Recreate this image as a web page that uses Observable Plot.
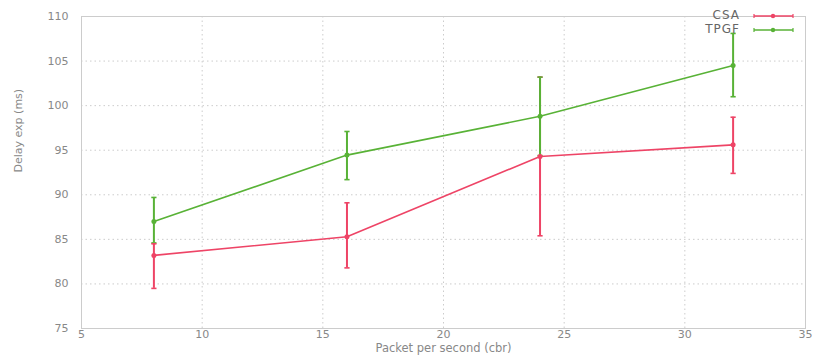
<!DOCTYPE html>
<html>
<head>
<meta charset="utf-8">
<script src="https://cdn.jsdelivr.net/npm/d3@7"></script>
<script src="https://cdn.jsdelivr.net/npm/@observablehq/plot@0.6"></script>
<style>
  html, body { margin: 0; padding: 0; background: #fff; }
  #wrap { position: relative; width: 813px; height: 357px; overflow: hidden; }
  #legend { position: absolute; left: 0; top: 0; width: 813px; height: 40px; pointer-events: none;
            font-family: "DejaVu Sans", sans-serif; }
  .lg-row { position: absolute; display: flex; align-items: center; }
  .lg-text { width: 60px; text-align: right; font-size: 12px; line-height: 12px; color: #666; letter-spacing: 1px; }
</style>
</head>
<body>
<div id="wrap"><div id="legend"></div></div>
<script>
// ---- data ----
const xValues   = [8, 16, 24, 32];
const seriesNames = ["CSA", "TPGF"];
const seriesColors = ["#ee4466", "#58b236"];
const csaMean   = [83.2, 85.3, 94.3, 95.6];
const csaLow    = [79.5, 81.8, 85.4, 92.4];
const csaHigh   = [84.5, 89.1, 103.2, 98.7];
const tpgfMean  = [87.0, 94.45, 98.8, 104.5];
const tpgfLow   = [84.6, 91.7, 94.4, 101.0];
const tpgfHigh  = [89.7, 97.1, 103.2, 108.1];
const xTicks = [5, 10, 15, 20, 25, 30, 35];
const yTicks = [75, 80, 85, 90, 95, 100, 105, 110];
const xLabel = "Packet per second (cbr)";
const yLabel = "Delay exp (ms)";

const rows = [];
xValues.forEach((x, i) => {
  rows.push({series: "CSA", x, y: csaMean[i], lo: csaLow[i], hi: csaHigh[i]});
});
xValues.forEach((x, i) => {
  rows.push({series: "TPGF", x, y: tpgfMean[i], lo: tpgfLow[i], hi: tpgfHigh[i]});
});

const capSymbol = {
  draw(context, size) {
    const w = 2.6;
    context.moveTo(-w, 0);
    context.lineTo(w, 0);
  }
};

const font = "'DejaVu Sans', sans-serif";

const chart = Plot.plot({
  width: 813,
  height: 357,
  marginLeft: 81,
  marginRight: 8,
  marginTop: 16,
  marginBottom: 29,
  style: { fontFamily: font, background: "#fff", overflow: "visible" },
  x: { domain: [5, 35] },
  y: { domain: [75, 110] },
  color: { domain: seriesNames, range: seriesColors },
  marks: [
    Plot.gridX(xTicks, { stroke: "#ccc", strokeOpacity: 1, strokeDasharray: "1.5,3" }),
    Plot.gridY(yTicks, { stroke: "#ccc", strokeOpacity: 1, strokeDasharray: "1.5,3" }),
    Plot.frame({ stroke: "#ccc" }),
    Plot.axisX({ ticks: xTicks, tickSize: 0, tickPadding: 2, label: null,
                 fontSize: 11, fill: "#888", style: "letter-spacing:2px" }),
    Plot.axisY({ ticks: yTicks, tickSize: 0, tickPadding: 13, label: null,
                 fontSize: 11, fill: "#888", style: "letter-spacing:2px" }),
    Plot.text([xLabel], { frameAnchor: "bottom", dy: 23, fontSize: 11.5, fill: "#888",
                          style: "letter-spacing:2.4px" }),
    Plot.text([yLabel], { frameAnchor: "left", dx: -63, rotate: -90, fontSize: 11, fill: "#888" }),
    // error bars
    Plot.ruleX(rows, { x: "x", y1: "lo", y2: "hi", stroke: "series", strokeWidth: 2 }),
    Plot.dot(rows, { x: "x", y: "lo", symbol: capSymbol, stroke: "series", strokeWidth: 1.6, r: 3 }),
    Plot.dot(rows, { x: "x", y: "hi", symbol: capSymbol, stroke: "series", strokeWidth: 1.6, r: 3 }),
    // lines
    Plot.line(rows, { x: "x", y: "y", z: "series", stroke: "series", strokeWidth: 1.6 }),
    Plot.dot(rows, { x: "x", y: "y", fill: "series", r: 2.5 })
  ]
});
document.getElementById("wrap").prepend(chart);

// legend (inside plot, top right)
const legend = document.getElementById("legend");
const legendTops = [9, 23];
seriesNames.forEach((name, i) => {
  const row = document.createElement("div");
  row.className = "lg-row";
  row.style.left = "680px";
  row.style.top = legendTops[i] + "px";
  row.style.height = "12px";
  row.innerHTML = `<span class="lg-text">${name}</span>
    <svg width="60" height="12" style="margin-left:12px">
      <line x1="2" x2="41" y1="7" y2="7" stroke="${seriesColors[i]}" stroke-width="1.6"/>
      <line x1="2" x2="2" y1="5" y2="9" stroke="${seriesColors[i]}" stroke-width="1.2"/>
      <line x1="41" x2="41" y1="5" y2="9" stroke="${seriesColors[i]}" stroke-width="1.2"/>
      <circle cx="21" cy="7" r="2.2" fill="${seriesColors[i]}"/>
    </svg>`;
  legend.appendChild(row);
});
</script>
</body>
</html>
